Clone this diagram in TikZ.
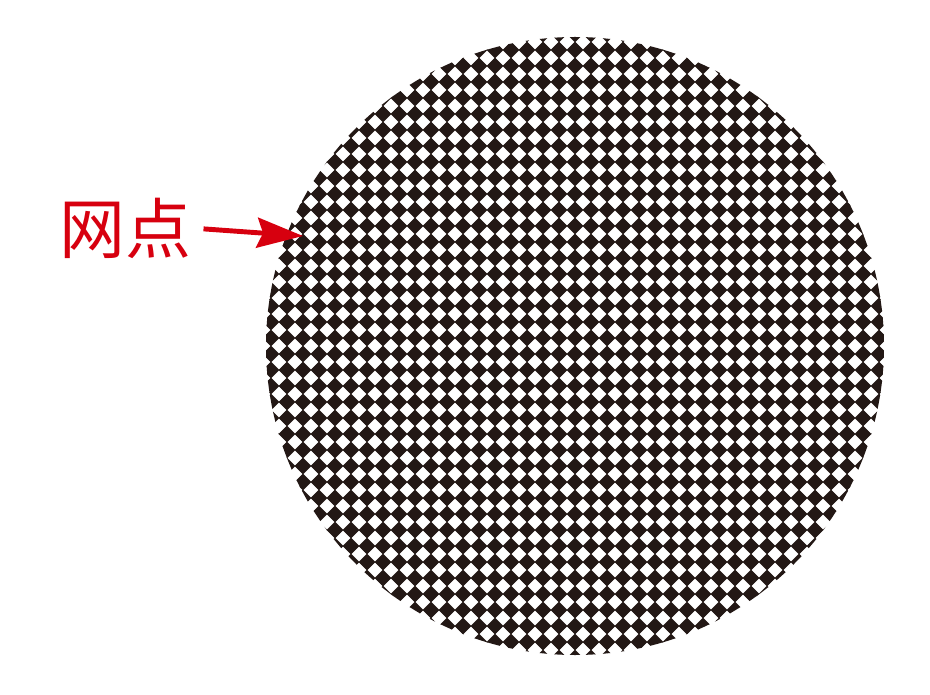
\documentclass[tikz,border=0pt]{standalone}
\usepackage{fontspec}
\newfontfamily\cjk{Noto Sans CJK SC}
\usetikzlibrary{arrows.meta}
\definecolor{inkblack}{RGB}{35,24,21}
\definecolor{markred}{RGB}{215,0,15}
\tikzset{
  dotlabel/.style={text=markred, inner sep=0pt, font=\cjk\fontsize{37.5pt}{40pt}\selectfont},
  pointer/.style={markred, line width=2.8pt, -{Stealth[length=0.92cm, width=0.6cm, inset=0.12cm]}}
}
\begin{document}
\begin{tikzpicture}
  \useasboundingbox (0,0) rectangle (18.6,13.88);
  \def\side{0.2263}
  \begin{scope}
    \clip (11.5,6.96) circle (6.18);
    \begin{scope}[shift={(11.5,6.96)}, rotate=45]
      \filldraw[inkblack, line width=0.3pt, line join=miter] \foreach \i in {-28,...,27} {
          \foreach \j in {-28,...,27} {
            \ifodd\numexpr\i+\j+100\relax\else
              (\i*\side,\j*\side) rectangle ++(\side,\side)
            \fi
          }
        };
    \end{scope}
  \end{scope}
  \node[dotlabel] (dots) at (2.5,9.32) {网点};
  \coordinate (tip) at (6.06,9.16);
  \draw[pointer, shorten <=7pt] (dots.east) -- (tip);
\end{tikzpicture}
\end{document}
